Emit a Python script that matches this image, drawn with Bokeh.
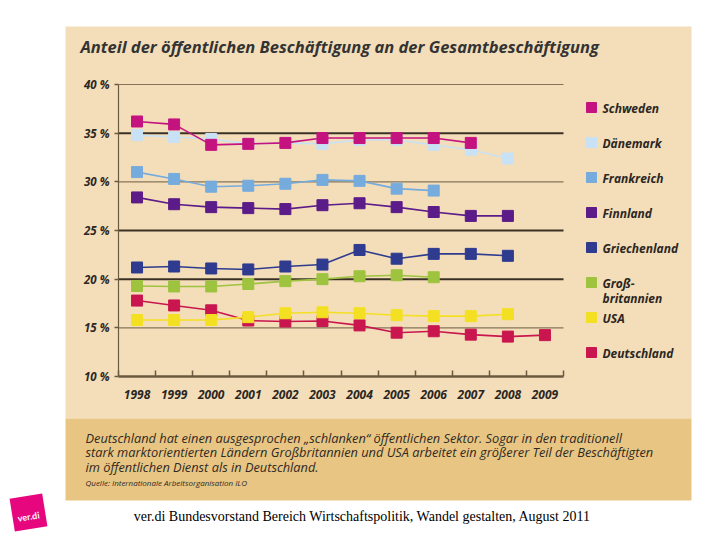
from bokeh.plotting import figure
from bokeh.models import FixedTicker, LinearAxis, Range1d
from bokeh.core.properties import value
from bokeh.embed import file_html
from bokeh.resources import INLINE

# ---------------- data ----------------
years = [1998, 1999, 2000, 2001, 2002, 2003, 2004, 2005, 2006, 2007, 2008, 2009]
year_labels = ["1998", "1999", "2000", "2001", "2002", "2003", "2004", "2005", "2006", "2007", "2008", "2009"]
y_ticks = [10, 15, 20, 25, 30, 35, 40]
y_tick_labels = ["10 %", "15 %", "20 %", "25 %", "30 %", "35 %", "40 %"]
thin_grid = [15, 30, 40]
thick_grid = [20, 25, 35]

schweden = [36.2, 35.9, 33.8, 33.9, 34.0, 34.5, 34.5, 34.5, 34.5, 34.0]
daenemark = [34.8, 34.6, 34.4, 33.9, 34.0, 33.9, 34.3, 34.3, 33.8, 33.3, 32.4]
frankreich = [31.0, 30.3, 29.5, 29.6, 29.8, 30.2, 30.1, 29.3, 29.1]
finnland = [28.4, 27.7, 27.4, 27.3, 27.2, 27.6, 27.8, 27.4, 26.9, 26.5, 26.5]
griechenland = [21.2, 21.3, 21.1, 21.0, 21.3, 21.5, 23.0, 22.1, 22.6, 22.6, 22.4]
grossbritannien = [19.3, 19.25, 19.25, 19.5, 19.8, 20.0, 20.3, 20.4, 20.2]
usa = [15.8, 15.8, 15.8, 16.1, 16.5, 16.6, 16.5, 16.3, 16.2, 16.2, 16.4]
deutschland = [17.8, 17.3, 16.8, 15.75, 15.65, 15.7, 15.25, 14.5, 14.65, 14.3, 14.1, 14.25]

legend_names = ["Schweden", "Dänemark", "Frankreich", "Finnland", "Griechenland",
                "Groß-\nbritannien", "USA", "Deutschland"]
legend_colors = ["#C4137F", "#C9E1F4", "#75ABDD", "#5B1B88", "#2E3B8F", "#9DC33F", "#F3E022", "#C9164F"]

# drawing order (bottom to top)
series = [
    (deutschland, legend_colors[7]),
    (usa, legend_colors[6]),
    (grossbritannien, legend_colors[5]),
    (griechenland, legend_colors[4]),
    (finnland, legend_colors[3]),
    (frankreich, legend_colors[2]),
    (daenemark, legend_colors[1]),
    (schweden, legend_colors[0]),
]

title_text = "Anteil der öffentlichen Beschäftigung an der Gesamtbeschäftigung"
note_lines = [
    "Deutschland hat einen ausgesprochen \u201eschlanken\u201c öffentlichen Sektor. Sogar in den traditionell",
    "stark marktorientierten Ländern Großbritannien und USA arbeitet ein größerer Teil der Beschäftigten",
    "im öffentlichen Dienst als in Deutschland.",
]
source_text = "Quelle: Internationale Arbeitsorganisation ILO"
footer_text = "ver.di Bundesvorstand Bereich Wirtschaftspolitik, Wandel gestalten, August 2011"

# ---------------- style / layout ----------------
W, H = 720, 540
BEIGE = "#F4DEBA"
BAND = "#E9C583"
AXIS = "#6B5A40"
TXT = "#2B2622"
FONT = value("Open Sans")

# plot area in page pixels
PL, PR, PT, PB = 118, 563, 84, 376
X0, X1 = years[0] - 0.5, years[-1] + 0.5
Y0, Y1 = y_ticks[0], y_ticks[-1]
xs_per_px = (X1 - X0) / (PR - PL)
ys_per_px = (Y1 - Y0) / (PB - PT)

p = figure(width=W, height=H, x_range=Range1d(0, W), y_range=Range1d(H, 0),
           output_backend="svg", toolbar_location=None, min_border=0,
           x_axis_type=None, y_axis_type=None,
           background_fill_color="#FFFFFF", border_fill_color="#FFFFFF",
           outline_line_color=None)
p.grid.visible = False
p.extra_x_ranges = {"yr": Range1d(X0 - PL * xs_per_px, X1 + (W - PR) * xs_per_px)}
p.extra_y_ranges = {"pct": Range1d(Y0 - (H - PB) * ys_per_px, Y1 + PT * ys_per_px)}

# panels
p.quad(left=[65], right=[691], top=[26], bottom=[418], fill_color=BEIGE, line_color=None)
p.quad(left=[65], right=[691], top=[418], bottom=[500], fill_color=BAND, line_color=None)

# grid lines
p.segment(x0=[X0] * len(thin_grid), x1=[X1] * len(thin_grid), y0=thin_grid, y1=thin_grid,
          x_range_name="yr", y_range_name="pct", line_color="#86745A", line_width=1.2)
p.segment(x0=[X0] * len(thick_grid), x1=[X1] * len(thick_grid), y0=thick_grid, y1=thick_grid,
          x_range_name="yr", y_range_name="pct", line_color="#3A3124", line_width=2)

# axes
xa = LinearAxis(x_range_name="yr", y_range_name="pct", fixed_location=Y0, bounds=(X0, X1))
xa.ticker = FixedTicker(ticks=years, minor_ticks=[y - 0.5 for y in years] + [X1])
xa.major_label_overrides = {y: l for y, l in zip(years, year_labels)}
xa.major_tick_line_color = None
xa.minor_tick_in = 6
xa.minor_tick_out = 0
xa.minor_tick_line_color = AXIS
xa.minor_tick_line_width = 1.5
xa.axis_line_color = AXIS
xa.axis_line_width = 2.5
xa.major_label_text_font = "Open Sans"
xa.major_label_text_font_style = "bold italic"
xa.major_label_text_font_size = "12px"
xa.major_label_text_color = TXT
xa.major_label_standoff = 7
p.add_layout(xa, "below")

ya = LinearAxis(x_range_name="yr", y_range_name="pct", fixed_location=X0, bounds=(Y0, Y1))
ya.ticker = FixedTicker(ticks=y_ticks)
ya.major_label_overrides = {t: l for t, l in zip(y_ticks, y_tick_labels)}
ya.major_tick_in = 0
ya.major_tick_out = 4
ya.major_tick_line_color = AXIS
ya.major_tick_line_width = 1.5
ya.minor_tick_line_color = None
ya.axis_line_color = AXIS
ya.axis_line_width = 1.2
ya.major_label_text_font = "Open Sans"
ya.major_label_text_font_style = "bold italic"
ya.major_label_text_font_size = "11.5px"
ya.major_label_text_color = TXT
ya.major_label_standoff = 5
p.add_layout(ya, "left")

# series
for vals, col in series:
    xs = years[:len(vals)]
    p.line(xs, vals, line_color=col, line_width=1.6, x_range_name="yr", y_range_name="pct")
    p.scatter(xs, vals, marker="square", size=11, fill_color=col, line_color=col,
              x_range_name="yr", y_range_name="pct")

# legend
lx, ly0, ldy = 591, 107, 35
n = len(legend_names)
p.scatter([lx] * n, [ly0 + i * ldy for i in range(n)], marker="square", size=10,
          fill_color=legend_colors, line_color=legend_colors)
p.text([lx + 11] * n, [ly0 - 8 + i * ldy for i in range(n)], text=legend_names,
       text_font=FONT, text_font_style="bold italic", text_font_size="12px",
       text_color=TXT, text_baseline="top", text_align="left", text_line_height=0.9)

# title
p.text([80], [46], text=[title_text], text_font=FONT, text_font_style="bold italic",
       text_font_size="16.5px", text_color="#333333", text_baseline="middle")

# note
p.text([85] * 3, [437 + 14.5 * i for i in range(3)], text=note_lines, text_font=FONT,
       text_font_style="italic", text_font_size="12.8px", text_color="#2E2A25",
       text_baseline="middle")
p.text([85], [482], text=[source_text], text_font=FONT, text_font_style="italic",
       text_font_size="8px", text_color="#2E2A25", text_baseline="middle")

# footer
p.text([362], [516], text=[footer_text], text_font=value("Liberation Serif"),
       text_font_size="14px", text_color="#000000", text_align="center", text_baseline="middle")

# logo
p.rect([28], [512], width=33, height=33, angle=0.16, fill_color="#E6067E", line_color=None)
p.text([28], [516], text=["ver.di"], text_font=value("Lato"), text_font_style="bold",
       text_font_size="9px", text_color="#FFFFFF", text_align="center", text_baseline="middle",
       angle=0.16)

open("out.html", "w").write(file_html(p, INLINE))
